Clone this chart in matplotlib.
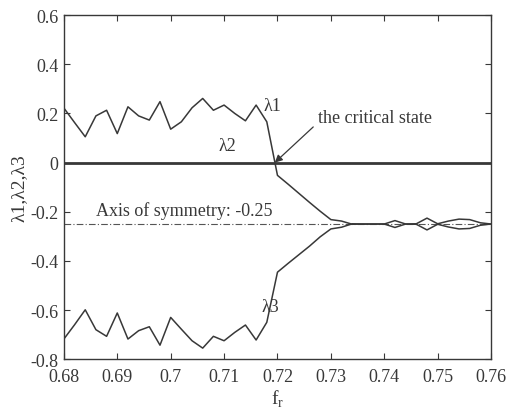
import matplotlib

matplotlib.use("Agg")
import matplotlib.pyplot as plt  # noqa: E402
from matplotlib.ticker import FuncFormatter  # noqa: E402

# values
f_r = [0.680, 0.682, 0.684, 0.686, 0.688, 0.690, 0.692, 0.694, 0.696, 0.698,
       0.700, 0.702, 0.704, 0.706, 0.708, 0.710, 0.712, 0.714, 0.716, 0.718,
       0.720, 0.722, 0.724, 0.726, 0.728, 0.730, 0.732, 0.734, 0.736, 0.738,
       0.740, 0.742, 0.744, 0.746, 0.748, 0.750, 0.752, 0.754, 0.756, 0.758,
       0.760]
lam1 = [0.222, 0.163, 0.105, 0.190, 0.213, 0.118, 0.227, 0.190, 0.173, 0.248,
        0.136, 0.166, 0.223, 0.261, 0.213, 0.234, 0.200, 0.170, 0.234, 0.166,
        -0.052, -0.088, -0.125, -0.162, -0.198, -0.232, -0.238, -0.251, -0.250, -0.250,
        -0.250, -0.236, -0.250, -0.249, -0.226, -0.249, -0.238, -0.230, -0.232, -0.245,
        -0.250]
lam2 = [0.0] * len(f_r)
lam3 = [-0.718, -0.660, -0.599, -0.680, -0.707, -0.612, -0.718, -0.684, -0.668, -0.743,
        -0.630, -0.678, -0.725, -0.755, -0.707, -0.725, -0.691, -0.661, -0.722, -0.650,
        -0.446, -0.410, -0.375, -0.340, -0.302, -0.270, -0.263, -0.249, -0.250, -0.250,
        -0.250, -0.264, -0.250, -0.251, -0.274, -0.251, -0.262, -0.270, -0.268, -0.255,
        -0.250]
symmetry = -0.25
critical = (0.7195, 0.0)

x_ticks = [0.68, 0.69, 0.70, 0.71, 0.72, 0.73, 0.74, 0.75, 0.76]
y_ticks = [-0.8, -0.6, -0.4, -0.2, 0.0, 0.2, 0.4, 0.6]

plt.rcParams["font.family"] = ["Liberation Serif", "DejaVu Serif"]
plt.rcParams["axes.unicode_minus"] = False
ink = "#383838"
fs = 13

fig = plt.figure(figsize=(5.11, 4.14), dpi=100)
ax = fig.add_axes([0.125, 0.130, 0.836, 0.831])

ax.axhline(symmetry, color="#555555", ls="-.", lw=0.8, dashes=(6, 2, 1, 2))
ax.plot(f_r, lam2, color=ink, lw=2.0)
ax.plot(f_r, lam1, color=ink, lw=1.1)
ax.plot(f_r, lam3, color=ink, lw=1.1)

ax.text(0.7173, 0.233, "λ1", fontsize=fs, color=ink, va="center")
ax.text(0.7089, 0.068, "λ2", fontsize=fs, color=ink, va="center")
ax.text(0.7171, -0.585, "λ3", fontsize=fs, color=ink, va="center")
ax.text(0.686, -0.195, "Axis of symmetry: -0.25", fontsize=fs, color=ink, va="center")
ax.annotate("the critical state", xy=critical, xytext=(0.7276, 0.184),
            fontsize=fs, color=ink, va="center",
            arrowprops=dict(arrowstyle="-|>", color=ink, lw=0.9, mutation_scale=11,
                            shrinkA=2, shrinkB=0,
                            relpos=(0.0, 0.2)))

ax.set_xlim(0.68, 0.76)
ax.set_ylim(-0.8, 0.6)
ax.set_xticks(x_ticks)
ax.set_yticks(y_ticks)
fmt = FuncFormatter(lambda v, _: f"{v:g}")
ax.xaxis.set_major_formatter(fmt)
ax.yaxis.set_major_formatter(fmt)
ax.tick_params(direction="in", top=True, right=True, length=4, width=0.8,
               labelsize=fs, colors=ink)
ax.tick_params(axis="x", pad=6)
ax.tick_params(axis="y", pad=4)
for s in ax.spines.values():
    s.set_color(ink)
    s.set_linewidth(1.0)

ax.set_xlabel("f$_\\mathregular{r}$", fontsize=fs + 1, color=ink, labelpad=2)
ax.set_ylabel("λ1,λ2,λ3", fontsize=fs + 1, color=ink, labelpad=2)

fig.savefig("out.png", dpi=100)
